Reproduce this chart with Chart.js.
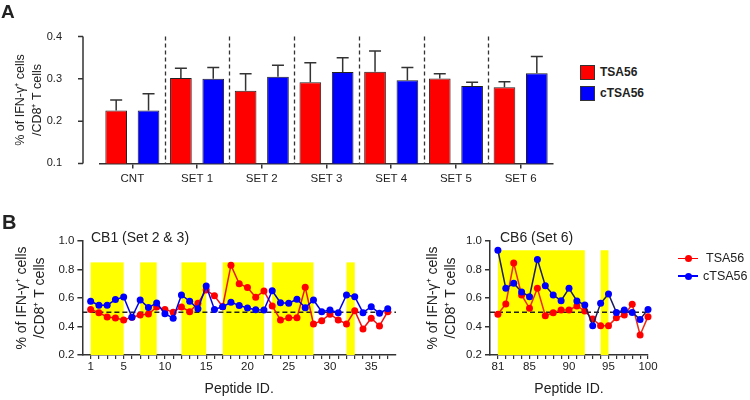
<!DOCTYPE html>
<html>
<head>
<meta charset="utf-8">
<script src="https://cdn.jsdelivr.net/npm/chart.js@4.4.1/dist/chart.umd.min.js"></script>
<style>
  body { margin: 0; width: 750px; height: 400px; position: relative; overflow: hidden; background: #fff;
         font-family: Arial, "Liberation Sans", sans-serif; color: #222; }
  canvas { position: absolute; }
  .lbl { position: absolute; white-space: nowrap; }
  .panel { font-weight: bold; }
  .sq { position: absolute; width: 13px; height: 13px; border: 1px solid #333; }
  .lg-line { position: absolute; width: 20px; height: 1.5px; }
  .lg-dot { position: absolute; width: 7px; height: 7px; border-radius: 50%; }
</style>
</head>
<body>
<canvas id="chartA" width="560" height="200" style="left:0;top:0"></canvas>
<canvas id="chartCB1" width="400" height="200" style="left:0;top:200px"></canvas>
<canvas id="chartCB6" width="260" height="200" style="left:400px;top:200px"></canvas>

<div class="lbl panel" style="left:1px;top:2px;font-size:19px;line-height:19px">A</div>
<div class="lbl panel" style="left:2px;top:212px;font-size:20px;line-height:20px">B</div>
<div class="lbl" style="left:91px;top:230px;font-size:14px;line-height:14px">CB1 (Set 2 &amp; 3)</div>
<div class="lbl" style="left:500px;top:230px;font-size:14px;line-height:14px">CB6 (Set 6)</div>

<!-- legend A -->
<div class="sq" style="left:580px;top:65px;background:#ff0000"></div>
<div class="lbl" style="left:600px;top:66px;font-size:12px;line-height:12px;font-weight:bold">TSA56</div>
<div class="sq" style="left:580px;top:86px;background:#0000ff"></div>
<div class="lbl" style="left:600px;top:87px;font-size:12px;line-height:12px;font-weight:bold">cTSA56</div>

<!-- legend B -->
<div class="lg-line" style="left:678px;top:257.5px;background:#ff0000"></div>
<div class="lg-dot" style="left:684.5px;top:254.8px;background:#ff0000"></div>
<div class="lbl" style="left:706px;top:252px;font-size:12.5px;line-height:12.5px">TSA56</div>
<div class="lg-line" style="left:678px;top:275.3px;background:#0000ff"></div>
<div class="lg-dot" style="left:684.5px;top:272.5px;background:#0000ff"></div>
<div class="lbl" style="left:703px;top:270px;font-size:12.5px;line-height:12.5px">cTSA56</div>

<script>
// ---- panel A: set means (+ upper SEM)
const setLabels = ["CNT", "SET 1", "SET 2", "SET 3", "SET 4", "SET 5", "SET 6"];
const tsaMean  = [0.225, 0.302, 0.272, 0.292, 0.317, 0.301, 0.280];
const tsaErr   = [0.025, 0.023, 0.040, 0.046, 0.049, 0.011, 0.013];
const ctsaMean = [0.225, 0.300, 0.305, 0.316, 0.297, 0.283, 0.313];
const ctsaErr  = [0.040, 0.027, 0.027, 0.034, 0.030, 0.009, 0.040];
const yTicksA  = [0.1, 0.2, 0.3, 0.4];

// ---- panel B: CB1 peptides 1-37
const cb1Ids  = [1, 2, 3, 4, 5, 6, 7, 8, 9, 10, 11, 12, 13, 14, 15, 16, 17, 18, 19, 20,
                 21, 22, 23, 24, 25, 26, 27, 28, 29, 30, 31, 32, 33, 34, 35, 36, 37];
const cb1Tsa  = [0.520, 0.497, 0.467, 0.459, 0.446, 0.465, 0.480, 0.488, 0.537, 0.520,
                 0.500, 0.537, 0.504, 0.563, 0.656, 0.616, 0.539, 0.830, 0.700, 0.673,
                 0.606, 0.649, 0.544, 0.446, 0.462, 0.462, 0.675, 0.418, 0.441, 0.486,
                 0.446, 0.418, 0.511, 0.382, 0.458, 0.404, 0.504];
const cb1Ctsa = [0.577, 0.550, 0.550, 0.589, 0.607, 0.465, 0.586, 0.533, 0.565, 0.490,
                 0.458, 0.621, 0.577, 0.524, 0.684, 0.520, 0.539, 0.570, 0.548, 0.530,
                 0.518, 0.516, 0.651, 0.567, 0.563, 0.591, 0.532, 0.586, 0.504, 0.516,
                 0.497, 0.621, 0.609, 0.497, 0.539, 0.493, 0.525];
const cb1Labelled = [1, 5, 10, 15, 20, 25, 30, 35];
const cb1Bands = [[1, 5], [7, 9], [12, 15], [17, 22], [23, 28], [32, 33]];
const cb1BandTop = 0.85;

// ---- panel B: CB6 peptides 81-100
const cb6Ids  = [81, 82, 83, 84, 85, 86, 87, 88, 89, 90, 91, 92, 93, 94, 95, 96, 97, 98, 99, 100];
const cb6Tsa  = [0.486, 0.558, 0.845, 0.621, 0.528, 0.668, 0.476, 0.497, 0.516, 0.516,
                 0.544, 0.509, 0.453, 0.406, 0.406, 0.462, 0.480, 0.556, 0.340, 0.469];
const cb6Ctsa = [0.935, 0.668, 0.703, 0.642, 0.609, 0.871, 0.686, 0.621, 0.581, 0.668,
                 0.579, 0.551, 0.406, 0.563, 0.628, 0.499, 0.516, 0.499, 0.450, 0.520];
const cb6Labelled = [81, 85, 90, 95, 100];
const cb6Bands = [[81, 92], [94, 95]];
const cb6BandTop = 0.935;

const cutoff = 0.5;
const yTicksB = [0.2, 0.4, 0.6, 0.8, 1.0];

const RED = "#ff0000";
const BLUE = "#0000ff";
const AXIS = "#333";
const FONT = 'Arial, "Liberation Sans", sans-serif';

Chart.defaults.font.family = FONT;
Chart.defaults.color = "#222";
Chart.defaults.animation = false;
Chart.defaults.events = [];

const yTitle = ["% of IFN-\u03b3\u207a cells", "/CD8\u207a T cells"];

// separators, error whiskers and the detached y axis of panel A
const barExtras = {
  id: "barExtras",
  beforeDatasetsDraw(chart) {
    const { ctx, chartArea: a, scales: { x } } = chart;
    ctx.save();
    ctx.strokeStyle = AXIS;
    ctx.lineWidth = 1.3;
    ctx.setLineDash([4, 3]);
    for (let i = 1; i < setLabels.length; i++) {
      const px = Math.round((x.getPixelForValue(i - 1) + x.getPixelForValue(i)) / 2) + 0.5;
      ctx.beginPath();
      ctx.moveTo(px, a.top);
      ctx.lineTo(px, a.bottom);
      ctx.stroke();
    }
    ctx.restore();
  },
  afterDatasetsDraw(chart) {
    const { ctx, chartArea: a, scales: { y } } = chart;
    ctx.save();
    ctx.strokeStyle = AXIS;
    ctx.lineWidth = 1.5;
    chart.data.datasets.forEach((ds, di) => {
      const meta = chart.getDatasetMeta(di);
      meta.data.forEach((bar, i) => {
        const top = y.getPixelForValue(ds.data[i] + ds.errors[i]);
        ctx.beginPath();
        ctx.moveTo(bar.x, bar.y);
        ctx.lineTo(bar.x, top);
        ctx.moveTo(bar.x - 6, top);
        ctx.lineTo(bar.x + 6, top);
        ctx.stroke();
      });
    });
    // y axis sits a little left of the first category
    const ax = a.left - 17;
    ctx.beginPath();
    ctx.moveTo(ax, y.getPixelForValue(y.max));
    ctx.lineTo(ax, y.getPixelForValue(y.min));
    for (const t of y.ticks) {
      const py = y.getPixelForValue(t.value);
      ctx.moveTo(ax - 5, py);
      ctx.lineTo(ax, py);
    }
    ctx.stroke();
    ctx.restore();
  },
};

new Chart(document.getElementById("chartA"), {
  type: "bar",
  data: {
    labels: setLabels,
    datasets: [
      { label: "TSA56", data: tsaMean, errors: tsaErr, backgroundColor: RED, borderColor: "#222", borderWidth: 1 },
      { label: "cTSA56", data: ctsaMean, errors: ctsaErr, backgroundColor: BLUE, borderColor: "#222", borderWidth: 1 },
    ],
  },
  options: {
    responsive: false,
    layout: { padding: { top: 15, right: 7, left: 0, bottom: 0 } },
    datasets: { bar: { categoryPercentage: 1.0, barPercentage: 0.67 } },
    plugins: { legend: { display: false }, tooltip: { enabled: false } },
    scales: {
      x: {
        offset: true,
        grid: { display: true, drawOnChartArea: false, offset: false, tickLength: 5, color: AXIS, lineWidth: 1.5 },
        border: { display: true, color: AXIS, width: 1.5 },
        ticks: { font: { size: 11.5 }, padding: 4, maxRotation: 0, autoSkip: false },
        afterFit: (s) => { s.height = 32; },
      },
      y: {
        min: 0.1, max: 0.4,
        afterBuildTicks: (s) => { s.ticks = yTicksA.map((v) => ({ value: v })); },
        grid: { display: false },
        border: { display: false },
        ticks: { font: { size: 11 }, padding: 30, callback: (v) => v.toFixed(1) },
        title: { display: true, text: yTitle, font: { size: 12.5, lineHeight: 1.35 }, padding: { top: 12, bottom: 0 } },
        afterFit: (s) => { s.width = 100; },
      },
    },
  },
  plugins: [barExtras],
});

// yellow peptide blocks and the 0.5 cut-off line
const bandPlugin = {
  id: "bands",
  beforeDatasetsDraw(chart, args, opts) {
    const { ctx, chartArea: a, scales: { x, y } } = chart;
    ctx.save();
    ctx.fillStyle = "#ffff00";
    const yTop = y.getPixelForValue(opts.top);
    const yBot = y.getPixelForValue(y.min);
    for (const [s, e] of opts.bands) {
      const x0 = x.getPixelForValue(s);
      const x1 = x.getPixelForValue(e);
      ctx.fillRect(x0, yTop, x1 - x0, yBot - yTop);
    }
    const yc = y.getPixelForValue(opts.cutoff);
    ctx.strokeStyle = "#222";
    ctx.lineWidth = 1.5;
    ctx.setLineDash([5, 3]);
    ctx.beginPath();
    ctx.moveTo(a.left, yc);
    ctx.lineTo(a.right, yc);
    ctx.stroke();
    ctx.restore();
  },
};

function peptideChart(id, ids, tsa, ctsa, o) {
  return new Chart(document.getElementById(id), {
    type: "line",
    data: {
      datasets: [
        {
          label: "TSA56", order: 2,
          data: ids.map((p, i) => ({ x: p, y: tsa[i] })),
          borderColor: o.redLine, backgroundColor: RED, pointBackgroundColor: RED,
          borderWidth: 1.5, pointRadius: 3.5, pointBorderWidth: 0, tension: 0,
        },
        {
          label: "cTSA56", order: 1,
          data: ids.map((p, i) => ({ x: p, y: ctsa[i] })),
          borderColor: o.blueLine, backgroundColor: BLUE, pointBackgroundColor: BLUE,
          borderWidth: 1.5, pointRadius: 3.5, pointBorderWidth: 0, tension: 0,
        },
      ],
    },
    options: {
      responsive: false,
      clip: false,
      layout: { padding: { top: 41, right: o.padRight, left: 0, bottom: 0 } },
      plugins: {
        legend: { display: false }, tooltip: { enabled: false },
        bands: { bands: o.bands, top: o.bandTop, cutoff },
      },
      scales: {
        x: {
          type: "linear", min: o.xMin, max: o.xMax,
          afterBuildTicks: (s) => { s.ticks = ids.map((v) => ({ value: v })); },
          grid: { display: true, drawOnChartArea: false, tickLength: 4, color: AXIS, lineWidth: 1.2 },
          border: { display: true, color: AXIS, width: 1.5 },
          ticks: {
            font: { size: 11.5 }, padding: 1, maxRotation: 0, autoSkip: false,
            callback: (v) => (o.labelled.includes(v) ? String(v) : ""),
          },
          title: { display: true, text: "Peptide ID.", font: { size: 14 }, padding: { top: 0, bottom: 2 } },
          afterFit: (s) => { s.height = 45; },
        },
        y: {
          min: 0.2, max: 1.0,
          afterBuildTicks: (s) => { s.ticks = yTicksB.map((v) => ({ value: v })); },
          grid: { display: true, drawOnChartArea: false, tickLength: 5, color: AXIS, lineWidth: 1.5 },
          border: { display: true, color: AXIS, width: 1.5 },
          ticks: { font: { size: 11.5 }, padding: 3, callback: (v) => v.toFixed(1) },
          title: { display: true, text: yTitle, font: { size: 14, lineHeight: 1.3 }, padding: { top: o.titlePad, bottom: 0 } },
          afterFit: (s) => { s.width = o.yWidth; },
        },
      },
    },
    plugins: [bandPlugin],
  });
}

peptideChart("chartCB1", cb1Ids, cb1Tsa, cb1Ctsa, {
  xMin: 0, xMax: 38, labelled: cb1Labelled, bands: cb1Bands, bandTop: cb1BandTop,
  yWidth: 82.4, padRight: 3.5, titlePad: 13, redLine: "#f01010", blueLine: "#0000e0",
});
peptideChart("chartCB6", cb6Ids, cb6Tsa, cb6Ctsa, {
  xMin: 80, xMax: 100, labelled: cb6Labelled, bands: cb6Bands, bandTop: cb6BandTop,
  yWidth: 90, padRight: 12, titlePad: 24, redLine: "#ee2a14", blueLine: "#1c1c5c",
});
</script>
</body>
</html>
